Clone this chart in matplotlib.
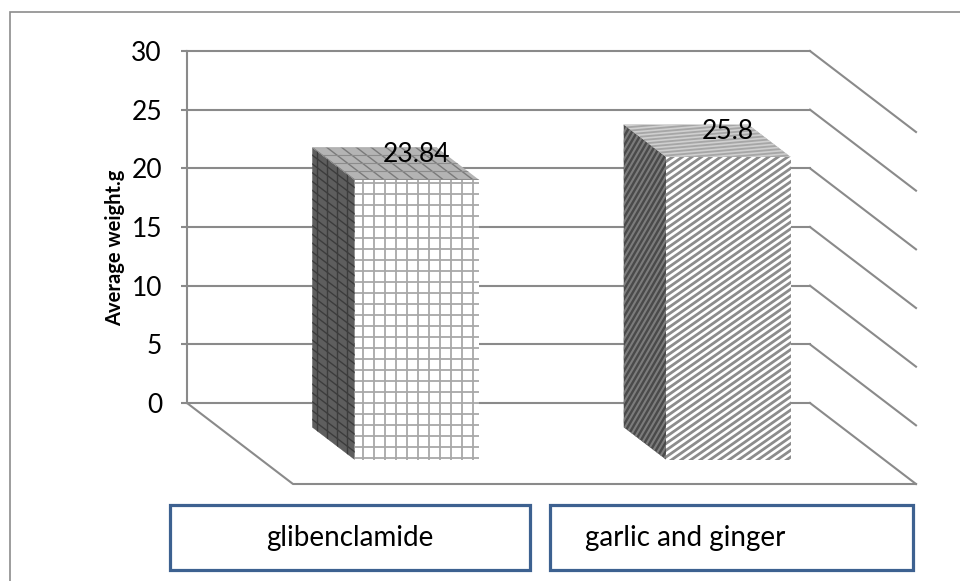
import numpy as np
import matplotlib.pyplot as plt
from matplotlib.patches import Polygon, Rectangle
from matplotlib.collections import LineCollection

categories = ['glibenclamide', 'garlic and ginger']
weights = [23.84, 25.8]
value_labels = ['23.84', '25.8']
yticks = [0, 5, 10, 15, 20, 25, 30]

plt.rcParams['font.family'] = ['Lato', 'DejaVu Sans']

W, H = 960, 581
fig = plt.figure(figsize=(W / 100, H / 100), dpi=100)
ax = fig.add_axes([187 / W, 178 / H, 623 / W, 352 / H])
ax.set_xlim(0, 2)
ax.set_ylim(0, 30)

# px per data unit on the back wall
SX = 623 / 2
SV = 352 / 30
# screen offset (px) of the full floor depth
DX_PX, DY_PX = 106, 81
GRID = '#8a8a8a'


def proj(x, v, d):
    return (x + d * DX_PX / SX, v - d * DY_PX / SV)


def hatch(poly, angle, spacing, color, lw):
    # straight lines in screen px space, clipped to the face
    pts = poly.get_xy()
    px = np.column_stack([pts[:, 0] * SX, pts[:, 1] * SV])
    a = np.radians(angle)
    u = np.array([np.cos(a), np.sin(a)])
    n = np.array([-np.sin(a), np.cos(a)])
    c = px.mean(axis=0)
    offs = px @ n
    reach = np.abs((px - c) @ u).max() + 10
    segs = []
    k0 = np.floor(offs.min() / spacing) - 1
    k1 = np.ceil(offs.max() / spacing) + 1
    for k in np.arange(k0, k1 + 1):
        base = c + n * (k * spacing - c @ n)
        p1 = base - u * reach
        p2 = base + u * reach
        segs.append([(p1[0] / SX, p1[1] / SV), (p2[0] / SX, p2[1] / SV)])
    lc = LineCollection(segs, colors=color, linewidths=lw, zorder=poly.get_zorder() + 0.1)
    lc.set_clip_path(poly)
    ax.add_collection(lc, autolim=False)


def face(corners, fc, z, patterns):
    poly = Polygon([proj(*c) for c in corners], closed=True, facecolor=fc,
                   edgecolor='none', zorder=z, clip_on=False)
    ax.add_patch(poly)
    for ang, sp, col, lw in patterns:
        hatch(poly, ang, sp, col, lw)


# back wall gridlines and right side wall
for t in yticks:
    ax.plot([0, 2], [t, t], color=GRID, lw=1.5, zorder=1, clip_on=False)
    x2, v2 = proj(2, t, 1)
    ax.plot([2, x2], [t, v2], color=GRID, lw=1.5, zorder=1, clip_on=False)

# floor
fl = [proj(0, 0, 0), proj(0, 0, 1), proj(2, 0, 1)]
ax.plot([p[0] for p in fl], [p[1] for p in fl], color=GRID, lw=1.5, zorder=1, clip_on=False)

ang_depth = -np.degrees(np.arctan2(DY_PX, DX_PX))
bar_w = 0.4
d0, d1 = 0.3, 0.7

styles = [
    {'front': ('white', [(0, 11, '#a8a8a8', 1.3), (90, 11, '#a8a8a8', 1.3)]),
     'side': ('#5e5e5e', [(ang_depth, 7, '#3c3c3c', 1.0), (90, 10, '#3c3c3c', 1.0)]),
     'top': ('#b4b4b4', [(ang_depth, 9, '#7a7a7a', 1.0), (0, 8, '#8c8c8c', 0.8)])},
    {'front': ('white', [(35, 5.5, '#8c8c8c', 2.0)]),
     'side': ('#4a4a4a', [(60, 4.5, '#7c7c7c', 1.5)]),
     'top': ('#a6a6a6', [(5, 3.5, '#cfcfcf', 1.2)])},
]

for i, (val, st) in enumerate(zip(weights, styles)):
    x0 = i + 0.5 - bar_w / 2
    x1 = i + 0.5 + bar_w / 2
    face([(x0, 0, d0), (x0, 0, d1), (x0, val, d1), (x0, val, d0)], st['side'][0], 3, st['side'][1])
    face([(x0, val, d0), (x1, val, d0), (x1, val, d1), (x0, val, d1)], st['top'][0], 3, st['top'][1])
    face([(x0, 0, d1), (x1, 0, d1), (x1, val, d1), (x0, val, d1)], st['front'][0], 4, st['front'][1])
    lx, ly = proj(i + 0.5, val, 0.5)
    ax.annotate(value_labels[i], (lx, ly), xytext=(21, 9), textcoords='offset pixels',
                ha='center', va='center', fontsize=19, zorder=6, annotation_clip=False)

ax.set_xticks([])
ax.set_yticks(yticks)
ax.tick_params(axis='y', length=4.5, width=1.5, color=GRID, labelsize=19, pad=13.5)
for s in ['top', 'right', 'bottom']:
    ax.spines[s].set_visible(False)
ax.spines['left'].set_color(GRID)
ax.spines['left'].set_linewidth(1.5)
ax.patch.set_visible(False)
ax.set_ylabel('Average weight.g', fontsize=14.5, fontweight='bold')
ax.yaxis.set_label_coords(-0.1, 0.44)

# chart border
fig.add_artist(Rectangle((10 / W, -0.05), 1.0, 1 - 12 / H + 0.05, transform=fig.transFigure,
                         facecolor='none', edgecolor='#8c8c8c', lw=1.2))

# category boxes
boxes = [(170, 530), (550, 913)]
for (bx0, bx1), name, tx in zip(boxes, categories, [350, 585]):
    fig.add_artist(Rectangle((bx0 / W, 1 - 570 / H), (bx1 - bx0) / W, 65 / H,
                             transform=fig.transFigure, facecolor='white',
                             edgecolor='#3d6190', lw=2.3))
    fig.text(tx / W, 1 - 538 / H, name, ha='center' if tx == 350 else 'left',
             va='center', fontsize=20)

fig.savefig('out.png', dpi=100)
